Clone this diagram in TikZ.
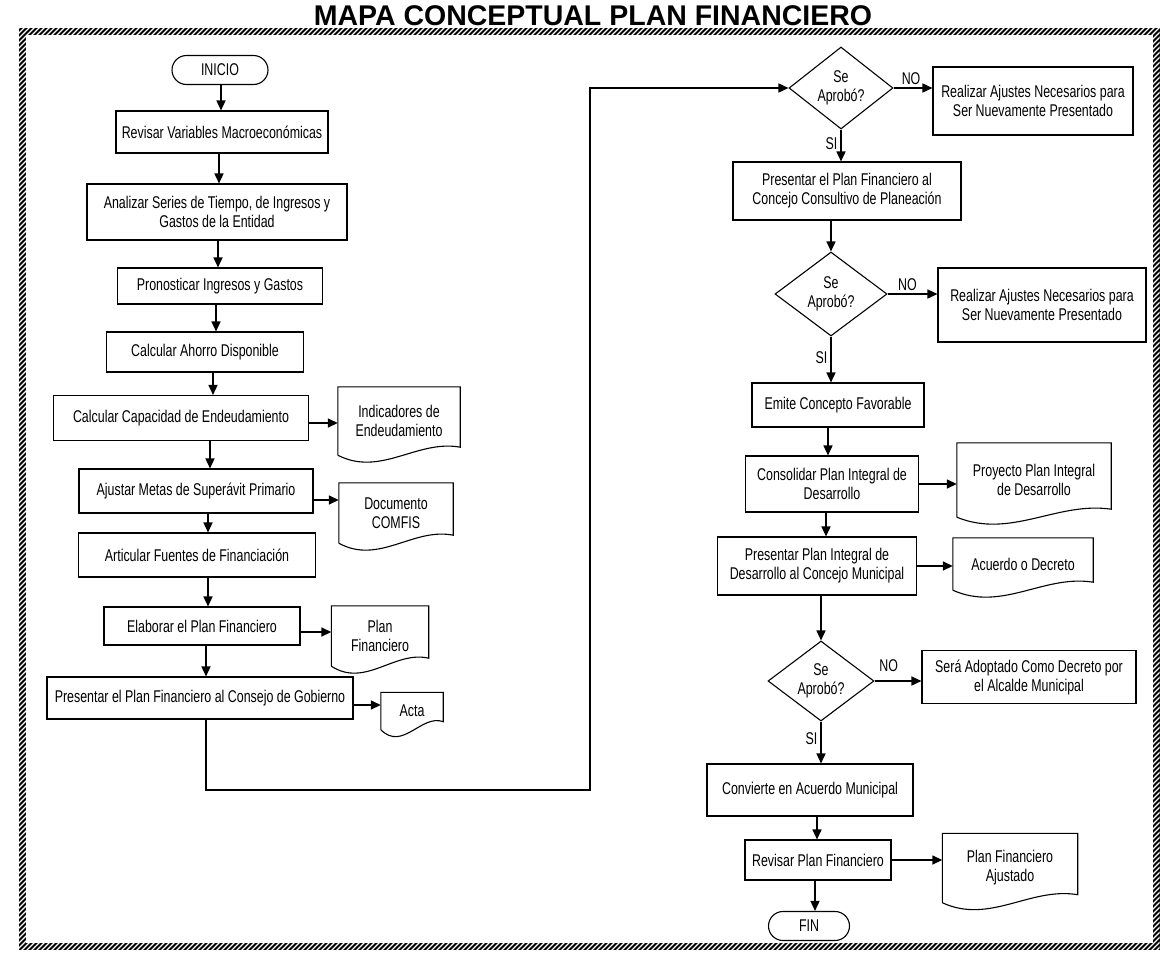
\documentclass[tikz,border=0pt]{standalone}
\usepackage{fontspec}
\setmainfont{Liberation Sans}[FakeStretch=0.73]
\newfontfamily\titlefont{Liberation Sans}
\usetikzlibrary{shapes.geometric,shapes.misc,arrows.meta,calc}
\newcommand\txtsize{\fontsize{17}{19}\selectfont}
\newcommand\docpath[1]{%
  \draw[boxline] (#1.south west) -- (#1.north west) -- (#1.north east) -- ([yshift=8pt]#1.south east)
    .. controls ($(#1.south west)!0.65!(#1.south east)+(0pt,16pt)$) and ($(#1.south west)!0.35!(#1.south east)+(0pt,-22pt)$) .. (#1.south west);}
\newcommand\varr[3]{\draw[arr] ($(#1.south)+(#3pt,0pt)$) -- ($(#2.north -| #1.south)+(#3pt,0pt)$);}
\newcommand\harr[3]{\draw[arr] ($(#1.east)+(0pt,#3pt)$) -- ($(#2.west |- #1.east)+(0pt,#3pt)$);}
\begin{document}
\begin{tikzpicture}[x=1pt,y=-1pt,
  boxline/.style={draw=black,line width=1.1pt},
  box/.style={boxline, rectangle, align=center, font=\txtsize, inner sep=2pt},
  term/.style={boxline, rounded rectangle, font=\txtsize, inner sep=2pt},
  dec/.style={boxline, diamond, aspect=1.3, inner sep=0pt, align=center, font=\txtsize},
  docnode/.style={rectangle, align=center, font=\txtsize, inner sep=2pt},
  arr/.style={line width=1.5pt, -{Triangle[length=10pt,width=9pt]}},
  lbl/.style={font=\txtsize, inner sep=3pt}]
\useasboundingbox (0,0) rectangle (1162,967);
% hatched frame
\fill[black] (18.5,27.5) rectangle (1159.5,949.5);
\begin{scope}
\clip (18.5,27.5) rectangle (1159.5,949.5);
\foreach \i in {-970,-965,...,1165} \draw[white, line width=1.3pt] (\i,967) -- ++(967,-967);
\end{scope}
\fill[white] (25.5,34.5) rectangle (1152.5,942.5);
% title
\node[anchor=base, inner sep=0pt, font=\fontsize{28.5}{30}\selectfont\titlefont\bfseries] (title) at (593,25) {MAPA CONCEPTUAL PLAN FINANCIERO};
% left column
\node[term, minimum width=100pt, minimum height=29pt] (ini) at (220,70) {INICIO};
\node[box, minimum width=212pt, minimum height=42pt] (b1) at (222,132) {Revisar Variables Macroeconómicas};
\node[box, minimum width=260pt, minimum height=56pt] (b2) at (217,212) {Analizar Series de Tiempo, de Ingresos y\\Gastos de la Entidad};
\node[box, minimum width=205pt, minimum height=36pt] (b3) at (220,286) {Pronosticar Ingresos y Gastos};
\node[box, minimum width=197pt, minimum height=40pt] (b4) at (205,352) {Calcular Ahorro Disponible};
\node[box, minimum width=255pt, minimum height=45pt] (b5) at (181,418) {Calcular Capacidad de Endeudamiento};
\node[box, minimum width=234pt, minimum height=44pt] (b6) at (196,491) {Ajustar Metas de Superávit Primario};
\node[box, minimum width=237pt, minimum height=44pt] (b7) at (197,555) {Articular Fuentes de Financiación};
\node[box, minimum width=196pt, minimum height=38pt] (b8) at (202,626) {Elaborar el Plan Financiero};
\node[box, minimum width=306pt, minimum height=42pt] (b9) at (200,698) {Presentar el Plan Financiero al Consejo de Gobierno};
% left documents
\node[docnode, minimum width=122pt, minimum height=68pt] (ind) at (399,421) {Indicadores de\\Endeudamiento};
\docpath{ind}
\node[docnode, minimum width=114pt, minimum height=60pt] (comfis) at (396,513) {Documento\\COMFIS};
\docpath{comfis}
\node[docnode, minimum width=97pt, minimum height=60pt] (planf) at (380,636) {Plan\\Financiero};
\docpath{planf}
\node[docnode, minimum width=62pt, minimum height=37pt] (acta) at (412,711) {Acta};
\docpath{acta}
% right column
\node[dec, minimum width=104pt, minimum height=82pt] (d1) at (841,88) {Se\\Aprobó?};
\node[box, minimum width=200pt, minimum height=68pt] (r1) at (1033,101) {Realizar Ajustes Necesarios para\\Ser Nuevamente Presentado};
\node[box, minimum width=228pt, minimum height=58pt] (c1) at (847,191) {Presentar el Plan Financiero al\\Concejo Consultivo de Planeación};
\node[dec, minimum width=112pt, minimum height=84pt] (d2) at (831,294) {Se\\Aprobó?};
\node[box, minimum width=208pt, minimum height=74pt] (r2) at (1042,305) {Realizar Ajustes Necesarios para\\Ser Nuevamente Presentado};
\node[box, minimum width=172pt, minimum height=44pt] (e1) at (838,405) {Emite Concepto Favorable};
\node[box, minimum width=173pt, minimum height=56pt] (c2) at (832,484) {Consolidar Plan Integral de\\Desarrollo};
\node[docnode, minimum width=154pt, minimum height=74pt] (proy) at (1034,480) {Proyecto Plan Integral\\de Desarrollo};
\docpath{proy}
\node[box, minimum width=199pt, minimum height=58pt] (c3) at (817,566) {Presentar Plan Integral de\\Desarrollo al Concejo Municipal};
\node[docnode, minimum width=140pt, minimum height=52pt] (acu) at (1023,564) {Acuerdo o Decreto};
\docpath{acu}
\node[dec, minimum width=106pt, minimum height=80pt] (d3) at (821,681) {Se\\Aprobó?};
\node[box, minimum width=214pt, minimum height=53pt] (r3) at (1029,677) {Será Adoptado Como Decreto por\\el Alcalde Municipal};
\node[box, minimum width=206pt, minimum height=52pt] (cv) at (810,790) {Convierte en Acuerdo Municipal};
\node[box, minimum width=146pt, minimum height=40pt] (rv) at (818,860) {Revisar Plan Financiero};
\node[docnode, minimum width=135pt, minimum height=69pt] (pfa) at (1010,868) {Plan Financiero\\Ajustado};
\docpath{pfa}
\node[term, minimum width=85pt, minimum height=29pt] (fin) at (809,926) {FIN};
% left arrows
\varr{ini}{b1}{1}
\varr{b1}{b2}{-3}
\varr{b2}{b3}{1}
\varr{b3}{b4}{-4}
\varr{b4}{b5}{8}
\varr{b5}{b6}{29}
\varr{b6}{b7}{12}
\varr{b7}{b8}{11}
\varr{b8}{b9}{4}
\harr{b5}{ind}{-5}
\harr{b6}{comfis}{-9}
\harr{b8}{planf}{-6}
\harr{b9}{acta}{-7}
% connector between columns
\coordinate (k) at (590,790);
\draw[arr] ($(b9.south)+(6pt,0pt)$) |- (k) |- (d1.west);
% right arrows
\draw[arr] (d1.south) -- (d1.south |- c1.north) node[lbl, pos=0.45, left] {SI};
\draw[arr] (d1.east) -- (d1.east -| r1.west) node[lbl, pos=0.45, above] {NO};
\draw[arr] (c1.south -| d2.north) -- (d2.north);
\draw[arr] (d2.south) -- (d2.south |- e1.north) node[lbl, pos=0.45, left] {SI};
\draw[arr] (d2.east) -- (d2.east -| r2.west) node[lbl, pos=0.4, above] {NO};
\varr{e1}{c2}{-10}
\harr{c2}{proy}{0}
\varr{c2}{c3}{-6}
\harr{c3}{acu}{0}
\draw[arr] (c3.south -| d3.north) -- (d3.north);
\draw[arr] (d3.south) -- (d3.south |- cv.north) node[lbl, pos=0.4, left] {SI};
\draw[arr] (d3.east) -- (d3.east -| r3.west) node[lbl, pos=0.3, above=6pt] {NO};
\varr{cv}{rv}{7}
\harr{rv}{pfa}{0}
\varr{rv}{fin}{-3}
\end{tikzpicture}
\end{document}
